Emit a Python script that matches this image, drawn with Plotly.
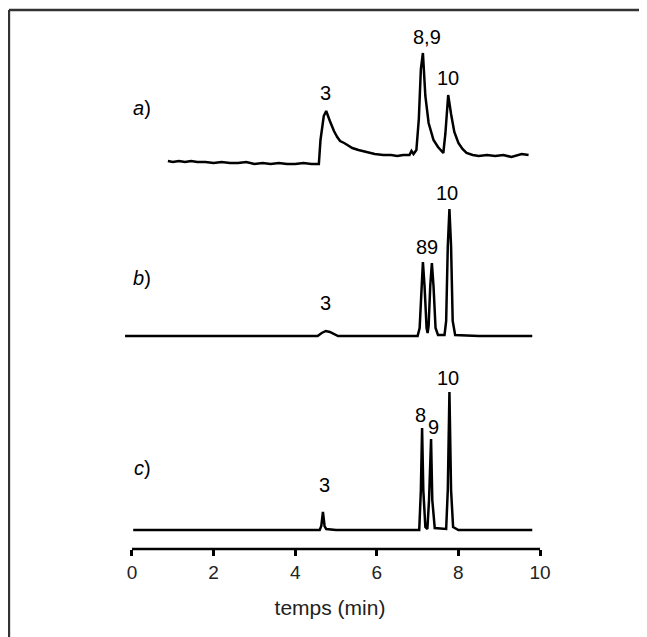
# chromatogrammes a), b), c)

import plotly.graph_objects as go

# trace a)
t_a = [0.88, 1.0, 1.15, 1.3, 1.45, 1.6, 1.8, 2.0, 2.2, 2.4, 2.6, 2.8, 3.0, 3.2, 3.4, 3.6,
       3.8, 4.0, 4.2, 4.4, 4.58, 4.62, 4.70, 4.76, 4.85, 4.95, 5.03, 5.10, 5.20, 5.27,
       5.40, 5.55, 5.76, 5.95, 6.16, 6.35, 6.5, 6.65, 6.8, 6.85, 6.9, 6.97, 7.03, 7.08,
       7.13, 7.19, 7.27, 7.39, 7.5, 7.63, 7.68, 7.75, 7.82, 7.9, 8.0, 8.1, 8.2, 8.35, 8.5,
       8.7, 8.9, 9.1, 9.3, 9.45, 9.55, 9.72]
sig_a = [3, 2, 3, 2, 3, 2, 2, 1, 2, 1, 1, 2, 0, 1, 0, 1,
         0, 0, 1, 0, 0, 24, 48, 53, 43, 33, 27, 23, 21, 19,
         16, 14, 12, 10, 9, 9, 8, 9, 9, 13, 10, 14, 45, 95,
         111, 68, 41, 24, 17, 11, 30, 69, 50, 32, 21, 15, 11, 9, 8,
         9, 8, 9, 7, 9, 10, 9]

# trace b)
t_b = [-0.17, 1.0, 2.0, 3.0, 4.0, 4.55, 4.65, 4.75, 4.85, 4.95, 5.05, 6.0, 7.0, 7.05,
       7.09, 7.13, 7.17, 7.22, 7.245, 7.27, 7.31, 7.35, 7.39, 7.44, 7.5, 7.66, 7.7,
       7.74, 7.78, 7.82, 7.86, 7.92, 8.5, 9.81]
sig_b = [0, 0, 0, 0, 0, 0, 3, 5, 4, 2, 0, 0, 0, 8,
         50, 74, 50, 8, 3, 10, 50, 73, 50, 8, 1, 1, 15,
         90, 127, 90, 15, 1, 0, 0]

# trace c)
t_c = [0.03, 1.0, 2.0, 3.0, 4.0, 4.6, 4.64, 4.68, 4.72, 4.76, 5.0, 6.0, 7.04, 7.08,
       7.11, 7.14, 7.19, 7.24, 7.28, 7.33, 7.36, 7.42, 7.7, 7.74, 7.78, 7.82, 7.87,
       8.0, 9.0, 9.81]
sig_c = [0, 0, 0, 0, 0, 0, 4, 18, 4, 1, 0, 0, 0, 40,
         102, 40, 3, 1, 30, 91, 30, 2, 1, 40, 138, 40, 3,
         0, 0, 0]

tick_vals = [0, 2, 4, 6, 8, 10]

# decalage vertical de chaque trace
offsets = {'a': 385, 'b': 213, 'c': 19}

fig = go.Figure()
for name, t, s in [('a', t_a, sig_a), ('b', t_b, sig_b), ('c', t_c, sig_c)]:
    fig.add_trace(
        go.Scatter(
            x=t, y=[v + offsets[name] for v in s], mode='lines',
            line=dict(color='black', width=2.5), showlegend=False
        )
    )

# etiquettes des pics
labels = [
    ('<i>a</i>)', 0.25, 441), ('3', 4.74, 456), ('8,9', 7.23, 512), ('10', 7.75, 471),
    ('<i>b</i>)', 0.25, 271), ('3', 4.74, 246), ('89', 7.23, 302), ('10', 7.72, 356),
    ('<i>c</i>)', 0.25, 81), ('3', 4.72, 64), ('8', 7.06, 134), ('9', 7.38, 122), ('10', 7.75, 171),
]
for txt, x, y in labels:
    fig.add_annotation(x=x, y=y, text=txt, showarrow=False,
                       font=dict(size=20, color='black'), xanchor='center', yanchor='middle')

# axe x de 0 a 10 et cadre
fig.add_shape(type='line', xref='x', yref='paper', x0=0, x1=10, y0=0, y1=0,
              line=dict(color='black', width=2.5))
fig.add_shape(type='line', xref='paper', yref='paper', x0=-0.198, x1=1.187, y0=1.0, y1=1.0,
              line=dict(color='#333333', width=2.5))
fig.add_shape(type='line', xref='paper', yref='paper', x0=-0.198, x1=-0.198, y0=1.0, y1=-0.17,
              line=dict(color='#333333', width=2.5))

fig.update_layout(
    width=639, height=629,
    margin=dict(l=92, r=87, t=2, b=88),
    paper_bgcolor='white', plot_bgcolor='white',
    font=dict(family='Liberation Sans, Arial, sans-serif', color='black'),
    xaxis=dict(range=[-0.784, 10.49], showgrid=False, zeroline=False, showline=False,
               tickvals=tick_vals, ticks='outside', ticklen=6, tickwidth=2.5,
               tickcolor='black', tickfont=dict(size=19, color='#222222'),
               title=dict(text='temps (min)', font=dict(size=21, color='#222222'), standoff=18)),
    yaxis=dict(range=[0, 539], visible=False),
)

fig.write_html("out.html")
